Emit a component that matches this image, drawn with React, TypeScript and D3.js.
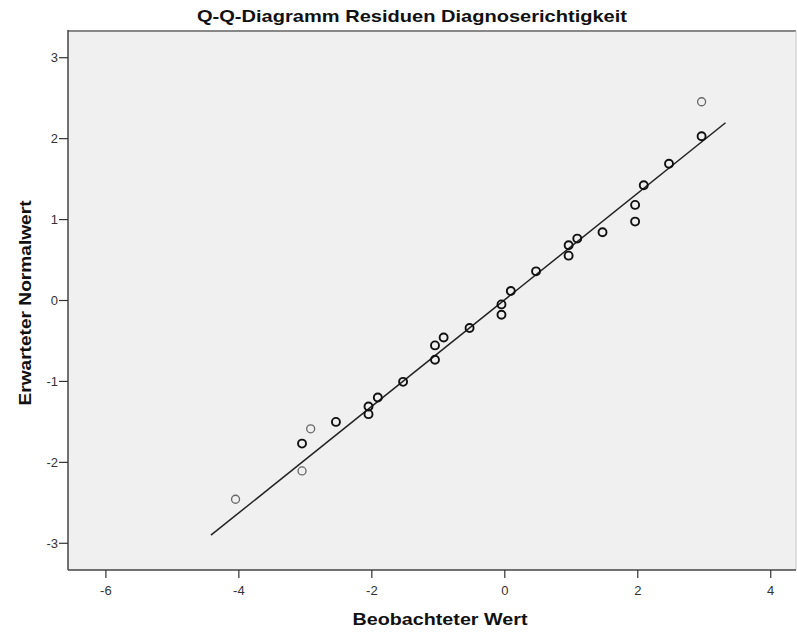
import React from "react";
import * as d3 from "d3";

const title = "Q-Q-Diagramm Residuen Diagnoserichtigkeit";
const xLabel = "Beobachteter Wert";
const yLabel = "Erwarteter Normalwert";

const observed = [
  -4.05, -3.05, -3.05, -2.92, -2.54, -2.05, -2.05, -1.91, -1.53, -1.05, -1.05, -0.92, -0.53,
  -0.05, -0.05, 0.09, 0.47, 0.96, 0.96, 1.09, 1.47, 1.96, 1.96, 2.09, 2.47, 2.96, 2.96,
];
const expected = [
  -2.456, -2.106, -1.768, -1.585, -1.5, -1.404, -1.31, -1.199, -1.005, -0.732, -0.555, -0.457,
  -0.34, -0.176, -0.048, 0.118, 0.36, 0.554, 0.682, 0.765, 0.843, 0.975, 1.181, 1.424, 1.689,
  2.03, 2.456,
];
// lighter (single) vs darker (overlapping) markers
const light = [1, 1, 0, 1, 0, 0, 0, 0, 0, 0, 0, 0, 0, 0, 0, 0, 0, 0, 0, 0, 0, 0, 0, 0, 0, 0, 1];

const lineX = [-4.42, 3.32];
const lineY = [-2.9, 2.196];

const xTicks = [-6, -4, -2, 0, 2, 4];
const yTicks = [-3, -2, -1, 0, 1, 2, 3];
const xDomain = [-6.57, 4.38];
const yDomain = [-3.33, 3.33];

export default function App() {
  const W = 797;
  const H = 633;
  const left = 68;
  const right = 796;
  const top = 31;
  const bottom = 570;

  const x = d3.scaleLinear().domain(xDomain).range([left, right]);
  const y = d3.scaleLinear().domain(yDomain).range([bottom, top]);

  const line = d3
    .line<number>()
    .x((d) => x(d))
    .y((_, i) => y(lineY[i]));

  const font = "'Liberation Sans', Arial, sans-serif";

  return (
    <svg
      width={W}
      height={H}
      style={{ position: "absolute", left: 0, top: 0, background: "#fff" }}
      fontFamily={font}
    >
      <text
        x={412}
        y={22}
        textAnchor="middle"
        fontWeight="bold"
        fontSize={17}
        fill="#111"
        textLength={430}
        lengthAdjust="spacingAndGlyphs"
      >
        {title}
      </text>
      <rect x={left} y={top} width={right - left} height={bottom - top} fill="#f0f0f0" />
      <line x1={left} x2={right} y1={top} y2={top} stroke="#888" strokeWidth={2} />
      <line x1={right} x2={right} y1={top} y2={bottom} stroke="#c8c8c8" strokeWidth={1} />
      <line x1={left} x2={left} y1={top - 1} y2={bottom} stroke="#444" strokeWidth={1.5} />
      <line x1={left} x2={right} y1={bottom} y2={bottom} stroke="#444" strokeWidth={1.5} />

      {xTicks.map((t) => (
        <g key={"x" + t}>
          <line x1={x(t)} x2={x(t)} y1={bottom} y2={bottom + 8} stroke="#333" strokeWidth={1.2} />
          <text x={x(t)} y={bottom + 25} textAnchor="middle" fontSize={13} fill="#333">
            {t}
          </text>
        </g>
      ))}
      {yTicks.map((t) => (
        <g key={"y" + t}>
          <line x1={left - 9} x2={left} y1={y(t)} y2={y(t)} stroke="#333" strokeWidth={1.2} />
          <text x={left - 10} y={y(t) + 4.5} textAnchor="end" fontSize={13} fill="#333">
            {t}
          </text>
        </g>
      ))}

      <text
        x={440}
        y={625}
        textAnchor="middle"
        fontWeight="bold"
        fontSize={17}
        fill="#111"
        textLength={175}
        lengthAdjust="spacingAndGlyphs"
      >
        {xLabel}
      </text>
      <text
        transform={`translate(31, 303) rotate(-90)`}
        textAnchor="middle"
        fontWeight="bold"
        fontSize={17}
        fill="#111"
        textLength={205}
        lengthAdjust="spacingAndGlyphs"
      >
        {yLabel}
      </text>

      <path d={line(lineX) || ""} fill="none" stroke="#222" strokeWidth={1.5} />

      {observed.map((v, i) => (
        <circle
          key={i}
          cx={x(v)}
          cy={y(expected[i])}
          r={4}
          fill="none"
          stroke={light[i] ? "#666" : "#111"}
          strokeWidth={light[i] ? 1.3 : 1.9}
        />
      ))}
    </svg>
  );
}
